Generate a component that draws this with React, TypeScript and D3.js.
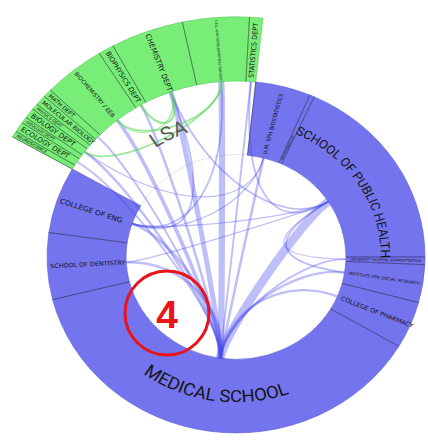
import { useEffect, useRef } from "react";
import * as d3 from "d3";

// units in clockwise order, starting at the lower-left end of LSA
const UNITS = [
  "NEUROSCIENCE",
  "ECOLOGY DEPT",
  "GEOLOGY DEPT",
  "BIOLOGY DEPT",
  "PHYSICS DEPT",
  "MOLECULAR BIOLOGY",
  "MATH DEPT",
  "BIOCHEMISTRY / EEB",
  "BIOPHYSICS DEPT",
  "CHEMISTRY DEPT",
  "CELL AND DEVELOPMENTAL BIOLOGY",
  "STATISTICS DEPT",
  "U.M. SPH BIOSTATISTICS",
  "SPH EPIDEMIOLOGY",
  "SCHOOL OF PUBLIC HEALTH",
  "UNIVERSITY HOSPITAL ADMINISTRATION",
  "INSTITUTE FOR SOCIAL RESEARCH",
  "COLLEGE OF PHARMACY",
  "MEDICAL SCHOOL",
  "SCHOOL OF DENTISTRY",
  "COLLEGE OF ENG",
];

const UNIT_SCHOOL = [
  "LSA", "LSA", "LSA", "LSA", "LSA", "LSA", "LSA",
  "LSA", "LSA", "LSA", "LSA", "LSA",
  "SPH", "SPH", "SPH",
  "HOSPITAL", "ISR", "PHARMACY",
  "MEDICAL", "DENTISTRY", "ENGINEERING",
];

const UNIT_SIZE = [
  1.5, 2.5, 1.5, 2.5, 1.5, 2.5, 2,
  14, 3.5, 16.5, 15, 3,
  17, 1.5, 65.5,
  2.5, 12.5, 15.5,
  135.5, 22, 22,
];

// collaborations: [unit, unit, strength]
const EDGES: [string, string, number][] = [
  ["MEDICAL SCHOOL", "SCHOOL OF PUBLIC HEALTH", 7],
  ["MEDICAL SCHOOL", "CHEMISTRY DEPT", 4],
  ["MEDICAL SCHOOL", "CELL AND DEVELOPMENTAL BIOLOGY", 5],
  ["MEDICAL SCHOOL", "BIOCHEMISTRY / EEB", 3],
  ["MEDICAL SCHOOL", "BIOPHYSICS DEPT", 2],
  ["MEDICAL SCHOOL", "STATISTICS DEPT", 1.5],
  ["MEDICAL SCHOOL", "BIOLOGY DEPT", 2],
  ["MEDICAL SCHOOL", "MATH DEPT", 1.5],
  ["MEDICAL SCHOOL", "ECOLOGY DEPT", 1.5],
  ["MEDICAL SCHOOL", "U.M. SPH BIOSTATISTICS", 2],
  ["MEDICAL SCHOOL", "UNIVERSITY HOSPITAL ADMINISTRATION", 1.5],
  ["MEDICAL SCHOOL", "INSTITUTE FOR SOCIAL RESEARCH", 2],
  ["MEDICAL SCHOOL", "COLLEGE OF PHARMACY", 2],
  ["MEDICAL SCHOOL", "SCHOOL OF DENTISTRY", 2],
  ["MEDICAL SCHOOL", "COLLEGE OF ENG", 2.5],
  ["COLLEGE OF ENG", "SCHOOL OF PUBLIC HEALTH", 1],
  ["SCHOOL OF DENTISTRY", "SCHOOL OF PUBLIC HEALTH", 1],
  ["COLLEGE OF ENG", "CHEMISTRY DEPT", 1.5],
  ["COLLEGE OF ENG", "CELL AND DEVELOPMENTAL BIOLOGY", 1.5],
  ["STATISTICS DEPT", "SCHOOL OF PUBLIC HEALTH", 1.5],
  ["CHEMISTRY DEPT", "SCHOOL OF PUBLIC HEALTH", 1.5],
  ["SCHOOL OF PUBLIC HEALTH", "INSTITUTE FOR SOCIAL RESEARCH", 1.5],
  ["SCHOOL OF PUBLIC HEALTH", "UNIVERSITY HOSPITAL ADMINISTRATION", 1],
  ["U.M. SPH BIOSTATISTICS", "BIOLOGY DEPT", 1],
  ["U.M. SPH BIOSTATISTICS", "COLLEGE OF ENG", 1],
  ["BIOPHYSICS DEPT", "CHEMISTRY DEPT", 2],
  ["BIOCHEMISTRY / EEB", "CELL AND DEVELOPMENTAL BIOLOGY", 1.5],
  ["BIOLOGY DEPT", "CELL AND DEVELOPMENTAL BIOLOGY", 1.5],
  ["BIOCHEMISTRY / EEB", "CHEMISTRY DEPT", 1],
];

const EXPANDED = "LSA";
const ANNOTATION = "4";

const W = 428;
const H = 442;
const CX = 236;
const CY = 257;
const SQUASH = 0.931;          // the picture is slightly flattened vertically
const R_IN = 110;
const R_OUT = 189;
const R_EXP = 258;
const START = -Math.PI / 3;

const BLUE = "#7474ee";
const GREEN = "#78ee78";

type Unit = {
  name: string;
  school: string;
  a0: number;
  a1: number;
  mid: number;
  r0: number;
  r1: number;
  exp: boolean;
};

export default function App() {
  const svgRef = useRef<SVGSVGElement | null>(null);

  useEffect(() => {
    const svg = svgRef.current;
    if (!svg) return;
    svg.innerHTML = "";

    const root = d3.select(svg).attr("width", W).attr("height", H);
    const g = root
      .append("g")
      .attr("transform", `translate(${CX},${CY}) scale(1,${SQUASH})`);

    const total = d3.sum(UNIT_SIZE);
    const angle = d3
      .scaleLinear()
      .domain([0, total])
      .range([START, START + 2 * Math.PI]);
    const cum = Array.from(d3.cumsum(UNIT_SIZE));

    const units: Unit[] = UNITS.map((name, i) => {
      const a0 = angle(cum[i] - UNIT_SIZE[i]);
      const a1 = angle(cum[i]);
      const exp = UNIT_SCHOOL[i] === EXPANDED;
      return {
        name,
        school: UNIT_SCHOOL[i],
        a0,
        a1,
        mid: (a0 + a1) / 2,
        r0: exp ? R_OUT : R_IN,
        r1: exp ? R_EXP : R_OUT,
        exp,
      };
    });
    const byName = new Map(units.map((u) => [u.name, u]));
    const pt = (a: number, r: number): [number, number] => [
      r * Math.sin(a),
      -r * Math.cos(a),
    ];
    const toDeg = (a: number) => (((a * 180) / Math.PI) % 360 + 360) % 360;

    // faint outline of the hole (shows where LSA was pulled out)
    g.append("circle")
      .attr("r", R_IN)
      .attr("fill", "none")
      .attr("stroke", "#e4e4e4")
      .attr("stroke-width", 1);

    // ring
    const arc = d3
      .arc<Unit>()
      .innerRadius((u) => u.r0)
      .outerRadius((u) => u.r1)
      .startAngle((u) => u.a0)
      .endAngle((u) => u.a1);

    g.selectAll("path.unit")
      .data(units)
      .join("path")
      .attr("class", "unit")
      .attr("d", arc)
      .attr("fill", (u) => (u.exp ? GREEN : BLUE))
      .attr("stroke", (u) => (u.exp ? "#55c455" : "#5a5ad2"))
      .attr("stroke-width", 0.6);

    // unit separators
    g.selectAll("line.sep")
      .data(units)
      .join("line")
      .attr("class", "sep")
      .attr("x1", (u) => pt(u.a0, u.r0)[0])
      .attr("y1", (u) => pt(u.a0, u.r0)[1])
      .attr("x2", (u) => pt(u.a0, u.r1)[0])
      .attr("y2", (u) => pt(u.a0, u.r1)[1])
      .attr("stroke", "#2a2a3a")
      .attr("stroke-opacity", 0.8)
      .attr("stroke-width", 0.6);

    // edges
    const edgePath = (e: [string, string, number]) => {
      const a = byName.get(e[0])!;
      const b = byName.get(e[1])!;
      let d = Math.abs(a.mid - b.mid) % (2 * Math.PI);
      if (d > Math.PI) d = 2 * Math.PI - d;
      const k = a.school === b.school ? 0.8 : 0.15 + (0.8 * d) / Math.PI;
      const p = d3.path();
      const p0 = pt(a.mid, a.r0);
      const c0 = pt(a.mid, a.r0 * k);
      const c1 = pt(b.mid, b.r0 * k);
      const p1 = pt(b.mid, b.r0);
      p.moveTo(p0[0], p0[1]);
      p.bezierCurveTo(c0[0], c0[1], c1[0], c1[1], p1[0], p1[1]);
      return p.toString();
    };
    const inside = (e: [string, string, number]) =>
      byName.get(e[0])!.exp && byName.get(e[1])!.exp;

    g.selectAll("path.edge")
      .data(EDGES)
      .join("path")
      .attr("class", "edge")
      .attr("d", edgePath)
      .attr("fill", "none")
      .attr("stroke", (e) => (inside(e) ? "#5ad85a" : "#4a4aee"))
      .attr("stroke-opacity", (e) => (inside(e) ? 0.6 : 0.36))
      .attr("stroke-width", (e) => e[2] * 1.25);

    // labels
    const FONT_SMALL = "DejaVu Sans, sans-serif";
    const FONT_BIG = "Roboto, sans-serif";
    const defs = root.append("defs");

    units.forEach((u, i) => {
      const span = u.a1 - u.a0;
      const rMid = (u.r0 + u.r1) / 2;
      const deg = toDeg(u.mid);
      if ((span * 180) / Math.PI > 45) {
        const arcLen = span * rMid;
        const fs = Math.min(18.5, arcLen / (u.name.length * 0.57));
        const top = deg < 90 || deg > 270;
        const rb = top ? rMid - 0.355 * fs : rMid + 0.355 * fs;
        const s = pt(top ? u.a0 : u.a1, rb);
        const t = pt(top ? u.a1 : u.a0, rb);
        const large = span > Math.PI ? 1 : 0;
        defs
          .append("path")
          .attr("id", `arc-${i}`)
          .attr("d", `M${s[0]},${s[1]} A${rb},${rb} 0 ${large} ${top ? 1 : 0} ${t[0]},${t[1]}`);
        g.append("text")
          .attr("font-family", FONT_BIG)
          .attr("font-size", fs)
          .attr("fill", "#151515")
          .append("textPath")
          .attr("href", `#arc-${i}`)
          .attr("startOffset", "50%")
          .attr("text-anchor", "middle")
          .text(u.name);
        return;
      }
      const band = u.r1 - u.r0;
      const fs = Math.min(7.5, span * rMid * 0.75, (band - 6) / (u.name.length * 0.6));
      const right = deg < 180;
      g.append("text")
        .attr(
          "transform",
          right
            ? `rotate(${deg - 90}) translate(${u.r0 + 4},0)`
            : `rotate(${deg + 90}) translate(${-(u.r1 - 3)},0)`
        )
        .attr("dy", "0.35em")
        .attr("font-family", FONT_SMALL)
        .attr("font-size", fs)
        .attr("fill", "#111")
        .text(u.name);
    });

    // label of the pulled-out school, left in its old place
    const lsa = units.filter((u) => u.exp);
    const la0 = d3.min(lsa, (u) => u.a0)!;
    const la1 = d3.max(lsa, (u) => u.a1)!;
    const lfs = 21;
    const lr = (R_IN + R_OUT) / 2 - 0.355 * lfs;
    const ls = pt(la0, lr);
    const le = pt(la1, lr);
    defs
      .append("path")
      .attr("id", "arc-school")
      .attr("d", `M${ls[0]},${ls[1]} A${lr},${lr} 0 0 1 ${le[0]},${le[1]}`);
    g.append("text")
      .attr("font-family", FONT_BIG)
      .attr("font-size", lfs)
      .attr("fill", "#5a5a5a")
      .append("textPath")
      .attr("href", "#arc-school")
      .attr("startOffset", "50%")
      .attr("text-anchor", "middle")
      .text(EXPANDED);

    // red annotation
    const ann = root.append("g").attr("transform", "translate(167,313)");
    ann.append("circle")
      .attr("r", 42)
      .attr("fill", "none")
      .attr("stroke", "#e8141a")
      .attr("stroke-width", 3);
    ann.append("text")
      .attr("y", 15)
      .attr("text-anchor", "middle")
      .attr("font-family", "Liberation Sans, Arial, sans-serif")
      .attr("font-weight", "bold")
      .attr("font-size", 39)
      .attr("fill", "#e8141a")
      .text(ANNOTATION);
  }, []);

  return (
    <div style={{ position: "absolute", left: 0, top: 0, width: W, height: H, background: "#fff" }}>
      <svg ref={svgRef} style={{ display: "block" }} />
    </div>
  );
}
